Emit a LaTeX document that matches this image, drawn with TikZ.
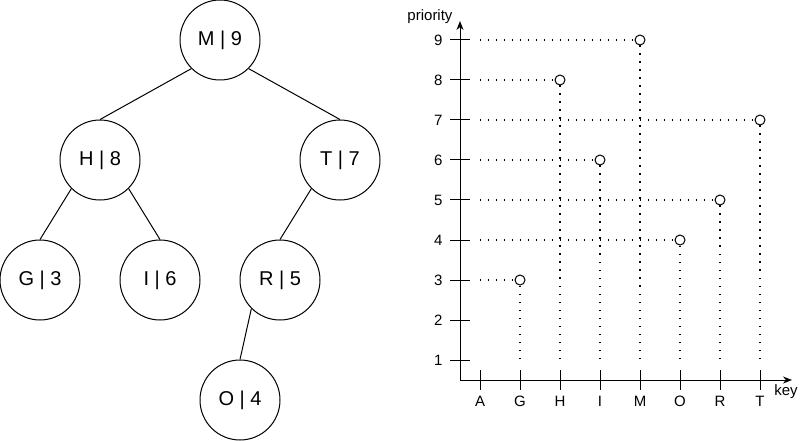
\documentclass[tikz,border=0pt]{standalone}
\usepackage{fontspec}
\setmainfont{Liberation Sans}
\usetikzlibrary{arrows.meta}

\begin{document}
\begin{tikzpicture}[x=1pt,y=-1pt,>={Stealth[length=9pt,width=7pt]},
  keynode/.style={draw,circle,minimum size=80pt,inner sep=0pt,font=\fontsize{20}{23}\selectfont},
  dotpt/.style={draw,circle,fill=white,minimum size=10pt,inner sep=0pt},
  guide/.style={line width=1.3pt,dash pattern=on 1.3pt off 6.7pt},
  lbl/.style={inner sep=0pt,font=\fontsize{15}{18}\selectfont},
  every path/.style={line width=1pt}]
\useasboundingbox (0,0) rectangle (812,441);
% treap
\node[keynode] (M) at (220,40) {M | 9};
\node[keynode] (H) at (100,160) {H | 8};
\node[keynode] (T) at (340,160) {T | 7};
\node[keynode] (G) at (40,280) {G | 3};
\node[keynode] (I) at (160,280) {I | 6};
\node[keynode] (R) at (280,280) {R | 5};
\node[keynode] (O) at (240,400) {O | 4};
\draw (M.south west)--(H.north);
\draw (M.south east)--(T.north);
\draw (H.south west)--(G.north);
\draw (H.south east)--(I.north);
\draw (T.south west)--(R.north);
\draw (R.south west)--(O.north);
% axes
\coordinate (orig) at (460,380);
\coordinate (ytop) at (460,21);
\coordinate (xend) at (792,380);
\draw[->] (orig)--(ytop);
\draw[->] (orig)--(xend);
\node[lbl] (ylab) at (430,17) {priority};
\node[lbl] (xlab) at (786,392) {key};
\foreach \p in {1,...,9} {
  \draw (450,{400-40*\p})--(470,{400-40*\p});
  \node[lbl,anchor=east] at (443,{400-40*\p}) {\p};
}
\foreach \k [count=\i] in {A,G,H,I,M,O,R,T} {
  \draw (440+40*\i,370)--(440+40*\i,390);
  \node[lbl] at (440+40*\i,401) {\k};
}
% points
\foreach \k/\x/\p in {M/640/9,H/560/8,T/760/7,I/600/6,R/720/5,O/680/4,G/520/3} {
  \node[dotpt] (pt\k) at (\x,{400-40*\p}) {};
  \coordinate (h\k) at (480,{400-40*\p});
  \coordinate (v\k) at (\x,360);
  \draw[guide] (h\k)--(pt\k.west);
  \draw[guide] (pt\k.south)--(v\k);
}
\end{tikzpicture}
\end{document}
